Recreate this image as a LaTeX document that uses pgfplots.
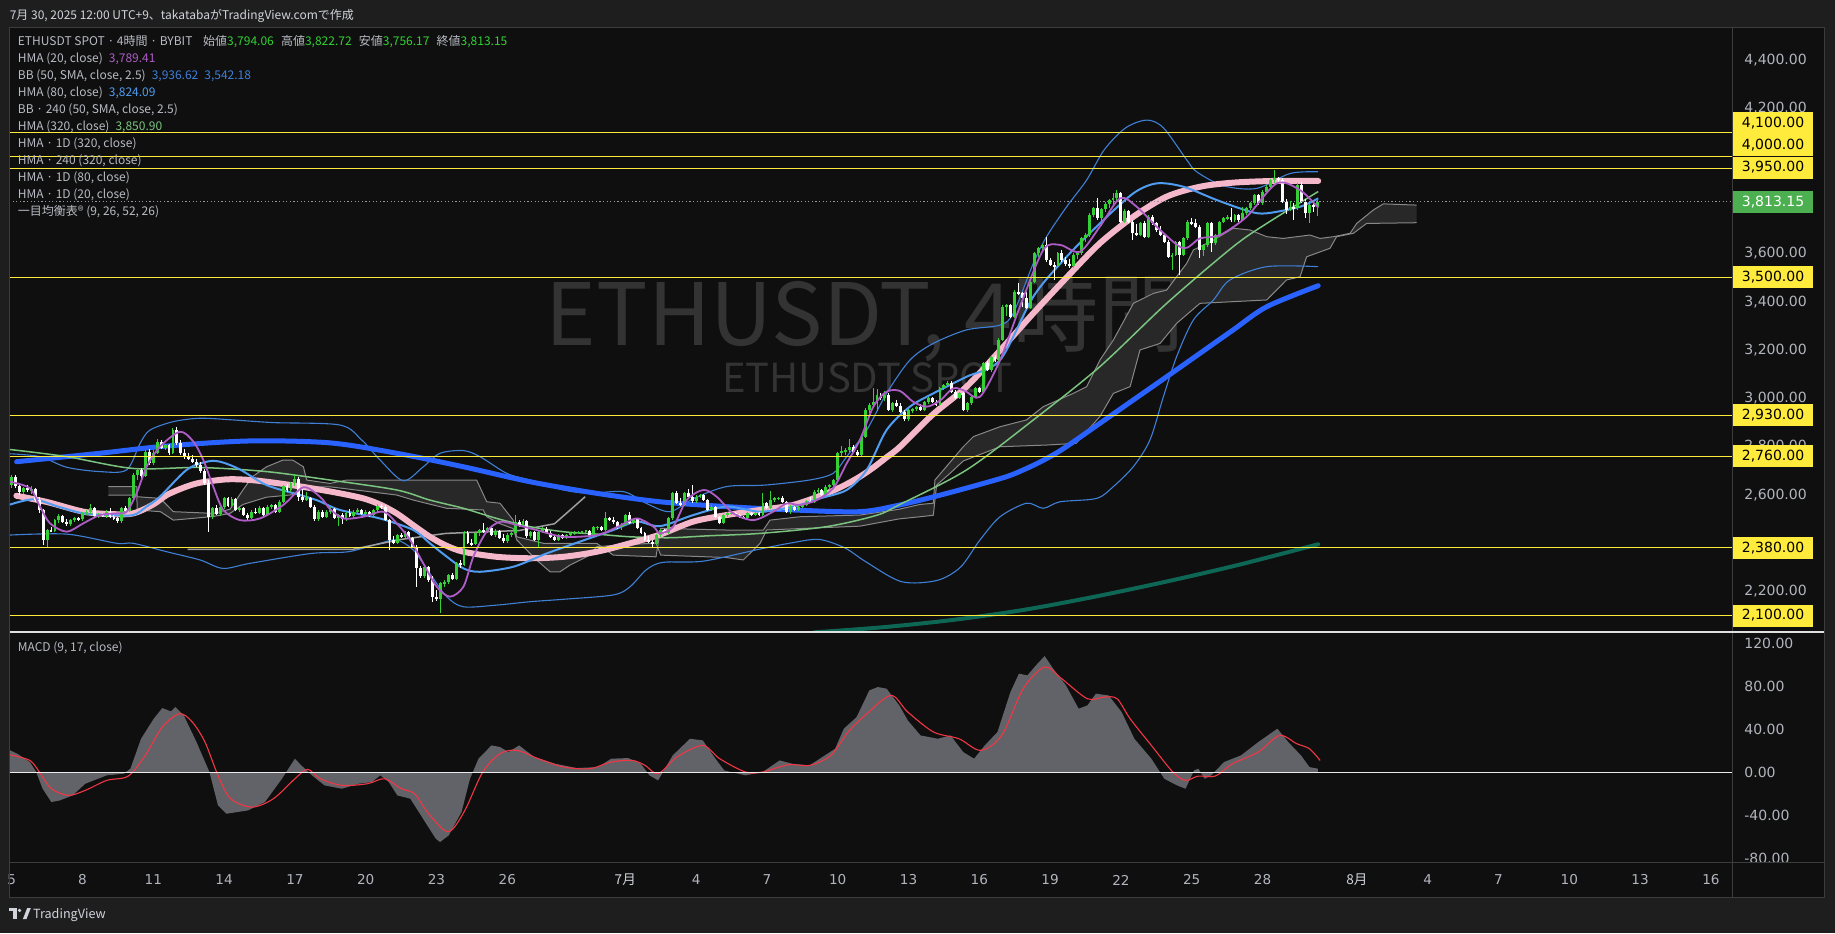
\documentclass[border=0pt]{standalone}
\usepackage{pgfplots}
\pgfplotsset{compat=1.18}
\usepackage{pgfplotstable}
\usepackage{fontspec}
\setmainfont{Noto Sans CJK JP}
\newfontfamily\axisfont{DejaVu Sans}

\definecolor{outer}{HTML}{1E1E1E}
\definecolor{pane}{HTML}{0F0F0F}
\definecolor{sepc}{HTML}{3C3C3C}
\definecolor{wm}{HTML}{333333}
\definecolor{axisgrey}{HTML}{B2B5BE}
\definecolor{legc}{HTML}{B8BBC3}
\definecolor{cup}{HTML}{33D133}
\definecolor{cdown}{HTML}{FFFFFF}
\definecolor{hma20c}{HTML}{AE5CC6}
\definecolor{hma80c}{HTML}{4F9CF0}
\definecolor{bbc}{HTML}{3F7FD6}
\definecolor{hma320c}{HTML}{7BC47F}
\definecolor{pinkc}{HTML}{F5B8CB}
\definecolor{tblue}{HTML}{2962FF}
\definecolor{tealc}{HTML}{0E6654}
\definecolor{greyl}{HTML}{9E9E9E}
\definecolor{cloudf}{HTML}{282828}
\definecolor{cloudl}{HTML}{888888}
\definecolor{ylw}{HTML}{FFEB3B}
\definecolor{boxgreen}{HTML}{4CAF50}
\definecolor{macdf}{HTML}{626368}
\definecolor{macdred}{HTML}{F23645}
\definecolor{dotc}{HTML}{9598A1}
\definecolor{monthc}{HTML}{D1D4DC}

% 4h candles, bar i opens at day 5 + i/6 (June = day n, July = 30 + n)
\pgfplotstableread{
i o h l c
0 2640 2680 2630 2672
1 2672 2680 2628 2635
2 2635 2645 2600 2610
3 2610 2632 2602 2628
4 2628 2640 2612 2618
5 2618 2635 2605 2625
6 2625 2630 2570 2580
7 2580 2590 2525 2535
8 2535 2540 2392 2413
9 2413 2460 2385 2454
10 2454 2468 2445 2450
11 2450 2500 2445 2495
12 2495 2520 2485 2512
13 2512 2518 2485 2489
14 2489 2498 2472 2479
15 2479 2500 2470 2495
16 2495 2510 2488 2502
17 2502 2508 2490 2498
18 2498 2528 2492 2523
19 2523 2535 2515 2530
20 2530 2560 2522 2544
21 2544 2548 2508 2512
22 2512 2525 2505 2520
23 2520 2526 2508 2512
24 2512 2535 2505 2530
25 2530 2545 2505 2509
26 2509 2515 2495 2502
27 2502 2508 2485 2490
28 2490 2550 2485 2544
29 2544 2555 2525 2532
30 2532 2590 2528 2585
31 2585 2690 2580 2682
32 2682 2710 2660 2703
33 2703 2712 2670 2678
34 2678 2785 2672 2778
35 2778 2790 2725 2732
36 2732 2785 2725 2775
37 2775 2830 2768 2820
38 2820 2828 2790 2795
39 2795 2810 2785 2805
40 2805 2812 2765 2772
41 2772 2878 2768 2868
42 2868 2880 2808 2813
43 2813 2825 2765 2772
44 2772 2790 2750 2760
45 2760 2775 2742 2750
46 2750 2765 2730 2737
47 2737 2750 2715 2723
48 2723 2735 2690 2697
49 2697 2705 2640 2650
50 2650 2660 2447 2509
51 2509 2550 2500 2544
52 2544 2558 2515 2520
53 2520 2555 2512 2548
54 2548 2592 2540 2585
55 2585 2590 2548 2552
56 2552 2590 2545 2584
57 2584 2588 2532 2537
58 2537 2552 2528 2546
59 2546 2550 2512 2516
60 2516 2525 2495 2502
61 2502 2535 2498 2530
62 2530 2545 2522 2526
63 2526 2552 2520 2544
64 2544 2548 2510 2516
65 2516 2556 2512 2551
66 2551 2562 2540 2556
67 2556 2560 2526 2530
68 2530 2578 2525 2571
69 2571 2642 2566 2636
70 2636 2645 2610 2618
71 2618 2652 2612 2647
72 2647 2685 2638 2664
73 2664 2672 2575 2590
74 2590 2625 2572 2580
75 2580 2610 2575 2585
76 2585 2590 2545 2551
77 2551 2556 2490 2498
78 2498 2535 2492 2530
79 2530 2536 2505 2509
80 2509 2535 2502 2530
81 2530 2548 2522 2540
82 2540 2545 2500 2505
83 2505 2520 2470 2515
84 2515 2525 2480 2498
85 2498 2530 2492 2525
86 2525 2540 2508 2512
87 2512 2535 2505 2530
88 2530 2545 2520 2538
89 2538 2542 2515 2520
90 2520 2535 2512 2528
91 2528 2534 2510 2515
92 2515 2540 2510 2535
93 2535 2560 2530 2555
94 2555 2562 2540 2550
95 2550 2556 2490 2496
96 2496 2500 2372 2412
97 2412 2430 2395 2400
98 2400 2438 2395 2433
99 2433 2440 2420 2426
100 2426 2452 2420 2447
101 2447 2452 2415 2420
102 2420 2425 2380 2385
103 2385 2390 2220 2295
104 2295 2305 2255 2262
105 2262 2308 2255 2302
106 2302 2306 2240 2248
107 2248 2262 2157 2178
108 2178 2205 2160 2170
109 2170 2240 2112 2233
110 2233 2248 2220 2240
111 2240 2272 2232 2267
112 2267 2275 2245 2250
113 2250 2320 2245 2316
114 2316 2330 2295 2310
115 2310 2448 2305 2440
116 2440 2450 2395 2400
117 2400 2418 2388 2395
118 2395 2445 2390 2440
119 2440 2460 2430 2454
120 2454 2485 2442 2448
121 2448 2468 2440 2461
122 2461 2466 2428 2433
123 2433 2458 2425 2452
124 2452 2456 2415 2420
125 2420 2438 2400 2408
126 2408 2440 2402 2433
127 2433 2445 2425 2440
128 2440 2518 2435 2488
129 2488 2494 2465 2470
130 2470 2498 2465 2492
131 2492 2496 2422 2428
132 2428 2450 2422 2445
133 2445 2450 2410 2414
134 2414 2452 2385 2447
135 2447 2465 2440 2460
136 2460 2466 2436 2441
137 2441 2448 2422 2427
138 2427 2435 2408 2413
139 2413 2438 2410 2433
140 2433 2437 2415 2420
141 2420 2436 2416 2432
142 2432 2445 2426 2440
143 2440 2448 2434 2443
144 2443 2450 2436 2446
145 2446 2452 2438 2449
146 2449 2455 2442 2452
147 2452 2456 2430 2435
148 2435 2470 2432 2465
149 2465 2472 2455 2468
150 2468 2472 2450 2455
151 2455 2530 2450 2502
152 2502 2510 2490 2495
153 2495 2508 2480 2486
154 2486 2492 2460 2468
155 2468 2482 2455 2476
156 2476 2522 2470 2516
157 2516 2528 2478 2484
158 2484 2505 2478 2498
159 2498 2502 2458 2462
160 2462 2468 2436 2440
161 2440 2446 2410 2414
162 2414 2428 2400 2405
163 2405 2412 2378 2398
164 2398 2436 2394 2432
165 2432 2458 2426 2454
166 2454 2460 2436 2441
167 2441 2506 2436 2502
168 2502 2612 2495 2606
169 2606 2615 2560 2565
170 2565 2588 2552 2558
171 2558 2612 2554 2606
172 2606 2622 2588 2592
173 2592 2642 2568 2573
174 2573 2598 2565 2592
175 2592 2604 2585 2599
176 2599 2603 2574 2578
177 2578 2582 2532 2537
178 2537 2556 2532 2551
179 2551 2555 2504 2509
180 2509 2512 2478 2483
181 2483 2520 2478 2516
182 2516 2528 2510 2523
183 2523 2530 2516 2526
184 2526 2530 2512 2516
185 2516 2522 2504 2509
186 2509 2514 2498 2502
187 2502 2528 2498 2523
188 2523 2527 2512 2516
189 2516 2530 2512 2526
190 2526 2530 2512 2516
191 2516 2606 2512 2564
192 2564 2570 2540 2544
193 2544 2614 2540 2578
194 2578 2590 2570 2585
195 2585 2592 2578 2588
196 2588 2594 2566 2571
197 2571 2575 2526 2530
198 2530 2556 2520 2551
199 2551 2555 2533 2537
200 2537 2556 2532 2551
201 2551 2562 2545 2558
202 2558 2580 2553 2575
203 2575 2590 2566 2571
204 2571 2618 2566 2613
205 2613 2626 2606 2620
206 2620 2625 2594 2599
207 2599 2640 2594 2634
208 2634 2645 2620 2640
209 2640 2666 2632 2661
210 2661 2778 2655 2772
211 2772 2800 2760 2780
212 2780 2792 2764 2786
213 2786 2830 2778 2799
214 2799 2806 2772 2778
215 2778 2784 2756 2764
216 2764 2846 2760 2841
217 2841 2958 2836 2951
218 2951 2980 2940 2972
219 2972 3042 2960 2986
220 2986 3040 2948 3013
221 3013 3020 2994 2999
222 2999 3030 2990 3015
223 3015 3022 2946 2951
224 2951 2984 2944 2979
225 2979 2992 2964 2969
226 2969 2982 2940 2944
227 2944 2950 2905 2912
228 2912 2956 2906 2951
229 2951 2960 2938 2955
230 2955 2968 2948 2962
231 2962 2976 2946 2951
232 2951 2990 2946 2986
233 2986 3004 2978 2999
234 2999 3006 2982 2986
235 2986 2992 2968 2972
236 2972 3046 2968 3041
237 3041 3060 3034 3054
238 3054 3070 3048 3064
239 3064 3070 3022 3027
240 3027 3032 2996 3000
241 3000 3025 2995 3020
242 3020 3026 2946 2951
243 2951 2985 2944 2979
244 2979 3010 2972 3006
245 3006 3046 3000 3041
246 3041 3048 3022 3027
247 3027 3150 3022 3144
248 3144 3155 3112 3117
249 3117 3178 3110 3172
250 3172 3180 3152 3158
251 3158 3248 3152 3241
252 3241 3386 3236 3379
253 3379 3392 3340 3386
254 3386 3390 3332 3338
255 3338 3448 3332 3441
256 3441 3476 3428 3434
257 3434 3440 3378 3414
258 3414 3440 3368 3375
259 3375 3490 3370 3483
260 3483 3606 3476 3600
261 3600 3628 3584 3621
262 3621 3640 3605 3634
263 3634 3669 3566 3572
264 3572 3580 3546 3552
265 3552 3565 3490 3546
266 3546 3606 3540 3600
267 3600 3612 3566 3572
268 3572 3586 3548 3555
269 3555 3575 3540 3546
270 3546 3600 3540 3593
271 3593 3606 3576 3600
272 3600 3668 3594 3662
273 3662 3684 3646 3676
274 3676 3766 3668 3759
275 3759 3792 3750 3786
276 3786 3828 3738 3745
277 3745 3790 3712 3782
278 3782 3812 3770 3806
279 3806 3826 3786 3821
280 3821 3850 3792 3828
281 3828 3862 3812 3849
282 3849 3856 3725 3731
283 3731 3782 3726 3776
284 3776 3780 3726 3731
285 3731 3740 3655 3683
286 3683 3720 3672 3678
287 3678 3728 3672 3724
288 3724 3736 3662 3669
289 3669 3758 3664 3752
290 3752 3760 3718 3724
291 3724 3730 3690 3696
292 3696 3712 3670 3676
293 3676 3682 3642 3648
294 3648 3654 3580 3586
295 3586 3600 3530 3594
296 3594 3652 3588 3646
297 3646 3652 3510 3593
298 3593 3668 3588 3662
299 3662 3738 3655 3731
300 3731 3745 3718 3724
301 3724 3742 3704 3710
302 3710 3716 3580 3614
303 3614 3640 3588 3634
304 3634 3730 3628 3724
305 3724 3730 3607 3641
306 3641 3682 3634 3676
307 3676 3736 3670 3731
308 3731 3750 3724 3745
309 3745 3758 3738 3752
310 3752 3786 3732 3738
311 3738 3764 3732 3759
312 3759 3764 3732 3738
313 3738 3793 3734 3766
314 3766 3792 3760 3786
315 3786 3812 3780 3807
316 3807 3848 3800 3842
317 3842 3846 3800 3807
318 3807 3862 3800 3856
319 3856 3882 3848 3876
320 3876 3910 3870 3904
321 3904 3945 3890 3911
322 3911 3918 3896 3904
323 3904 3912 3808 3814
324 3814 3826 3762 3780
325 3780 3815 3775 3793
326 3793 3808 3738 3786
327 3786 3890 3780 3883
328 3883 3895 3808 3814
329 3814 3824 3745 3766
330 3766 3806 3724 3800
331 3800 3815 3770 3794.06
332 3794.06 3822.72 3756.17 3813.15
}\candles

% Ichimoku cloud edges
\pgfplotstableread{
x y
9.1 2634
10.3 2634
10.32 2592
11.3 2585
11.85 2530
13.54 2523
14.25 2540
14.8 2620
15.2 2675
15.8 2716
16.5 2744
16.9 2744
17.36 2716
17.5 2661
18.49 2647
19.19 2661
24.7 2661
25.13 2571
25.69 2565
26.25 2495
26.4 2426
27.53 2399
29.79 2399
30.49 2350
32.3 2343
32.5 2461
35.29 2454
36.85 2454
37.13 2495
38.4 2509
40.94 2516
42.6 2540
43.49 2560
44.05 2565
44.12 2661
45.32 2799
45.75 2841
46.88 2882
48.0 2910
48.71 2965
49.98 3020
50.55 3048
51.11 3158
51.68 3241
52.53 3393
53.37 3434
53.94 3448
54.79 3559
55.07 3614
55.92 3655
56.76 3704
57.47 3697
58.18 3669
58.88 3662
60.01 3676
60.44 3662
61.0 3669
61.71 3683
61.99 3724
62.7 3780
63.12 3805
64.53 3800
}\spanA
\pgfplotstableread{
x y
9.1 2599
10.3 2599
10.32 2537
11.3 2530
11.85 2495
13.54 2510
14.25 2523
14.8 2560
15.8 2590
16.9 2600
17.5 2633
18.49 2633
21.31 2599
22.02 2578
23.43 2544
24.98 2537
25.13 2509
25.69 2480
26.25 2460
26.4 2413
27.24 2330
27.81 2281
28.23 2281
28.66 2309
29.5 2350
29.79 2385
30.49 2390
32.3 2400
32.5 2350
35.29 2340
36.0 2330
36.71 2399
36.99 2454
38.4 2460
40.94 2470
42.6 2500
43.49 2509
44.05 2515
44.19 2640
44.76 2689
45.32 2740
46.88 2799
48.85 2806
50.1 2813
51.11 2924
51.68 3020
52.39 3048
52.81 3200
53.66 3227
54.36 3310
55.35 3393
58.18 3407
59.02 3490
59.59 3503
59.87 3586
60.86 3621
61.14 3669
61.85 3683
62.41 3724
64.53 3727
}\spanB
% cloud outline: span A forward, span B backward
\pgfplotstableread{
x y
9.1 2634
10.3 2634
10.32 2592
11.3 2585
11.85 2530
13.54 2523
14.25 2540
14.8 2620
15.2 2675
15.8 2716
16.5 2744
16.9 2744
17.36 2716
17.5 2661
18.49 2647
19.19 2661
24.7 2661
25.13 2571
25.69 2565
26.25 2495
26.4 2426
27.53 2399
29.79 2399
30.49 2350
32.3 2343
32.5 2461
35.29 2454
36.85 2454
37.13 2495
38.4 2509
40.94 2516
42.6 2540
43.49 2560
44.05 2565
44.12 2661
45.32 2799
45.75 2841
46.88 2882
48.0 2910
48.71 2965
49.98 3020
50.55 3048
51.11 3158
51.68 3241
52.53 3393
53.37 3434
53.94 3448
54.79 3559
55.07 3614
55.92 3655
56.76 3704
57.47 3697
58.18 3669
58.88 3662
60.01 3676
60.44 3662
61.0 3669
61.71 3683
61.99 3724
62.7 3780
63.12 3805
64.53 3800
64.53 3727
62.41 3724
61.85 3683
61.14 3669
60.86 3621
59.87 3586
59.59 3503
59.02 3490
58.18 3407
55.35 3393
54.36 3310
53.66 3227
52.81 3200
52.39 3048
51.68 3020
51.11 2924
50.1 2813
48.85 2806
46.88 2799
45.32 2740
44.76 2689
44.19 2640
44.05 2515
43.49 2509
42.6 2500
40.94 2470
38.4 2460
36.99 2454
36.71 2399
36.0 2330
35.29 2340
32.5 2350
32.3 2400
30.49 2390
29.79 2385
29.5 2350
28.66 2309
28.23 2281
27.81 2281
27.24 2330
26.4 2413
26.25 2460
25.69 2480
25.13 2509
24.98 2537
23.43 2544
22.02 2578
21.31 2599
18.49 2633
17.5 2633
16.9 2600
15.8 2590
14.8 2560
14.25 2523
13.54 2510
11.85 2495
11.3 2530
10.32 2537
10.3 2599
9.1 2599
}\cloudpoly

% MACD line, closed along the zero line for the area fill
\pgfplotstableread{
x y
4.886 21
5.23 17.4
5.77 9.6
6.04 0.3
6.31 -15.3
6.68 -27.7
7.04 -26.2
7.58 -21.5
8.12 -10.6
9.03 -2.8
9.75 -1.3
10.03 3.4
10.48 31.3
11.02 50
11.38 59.9
11.75 56.8
11.93 60.9
12.29 53.1
12.83 28.2
13.38 0.3
13.74 -30.8
14.1 -38.6
15.01 -35.5
15.73 -27.7
16.45 -6
17.0 12.7
17.27 6.5
17.72 -2.8
18.26 -12.2
18.99 -15.3
19.71 -10.6
20.26 -9.1
20.62 -2.8
20.98 -9.1
21.34 -21.5
21.89 -24.6
22.25 -37
22.61 -49.5
22.97 -61.9
23.15 -65
23.52 -58.8
24.06 -37
24.42 -6
24.78 12.7
25.33 25.1
25.69 23.6
26.05 18.9
26.5 25.1
27.14 14.3
28.04 8
28.95 4
29.85 4.9
30.4 12.7
31.12 13.3
31.66 8
32.02 -2.8
32.39 -7.5
33.01 15.8
33.74 31.3
34.28 29.8
34.82 12.7
35.19 1.8
36.09 -2.8
36.82 0.3
37.54 11.1
38.08 8
38.81 6.5
39.35 14.3
39.89 22
40.26 40.7
40.8 51.5
41.34 76.4
41.7 79.5
42.07 78
42.61 62.4
42.97 48.4
43.51 34.4
44.24 31.3
44.78 34.4
45.32 18.9
45.78 12.7
46.23 25.1
46.77 37.6
47.32 74.9
47.68 92
48.04 90.4
48.4 99.7
48.77 108.4
49.13 96.6
49.67 81.1
50.21 59.3
50.58 62.4
50.94 73.3
51.48 71.7
52.03 56.2
52.57 31.3
53.29 12.7
53.84 -6
54.38 -12.2
54.74 -15.3
55.1 1.8
55.28 3.4
55.55 -6
55.83 -2.8
56.37 9.6
57.09 15.8
57.82 28.2
58.63 40.7
59.09 28.2
59.63 15.8
59.99 4.9
60.35 3.4
60.35 0
4.886 0
}\macdtab

\begin{document}
\begin{tikzpicture}[line join=round]
\fill[outer] (0,0) rectangle (917.5pt,-466.5pt);
\fill[pane] (4.5pt,-13.5pt) rectangle (912pt,-448.5pt);

% watermark
\node[anchor=base, text=wm, inner sep=0pt, font=\fontsize{43}{43}\selectfont] at (432.5pt,-172.5pt) {ETHUSDT, 4時間};
\node[anchor=base, text=wm, inner sep=0pt, font=\fontsize{20}{20}\selectfont] at (433.5pt,-196pt) {ETHUSDT SPOT};

% ---------- price pane ----------
\begin{axis}[
    at={(4.5pt,-316pt)}, anchor=south west,
    scale only axis, width=861.5pt, height=302.5pt,
    xmin=4.8856, xmax=77.894, ymin=2031.5, ymax=4537.7,
    axis line style={draw=none}, tick style={draw=none},
    xtick=\empty,
    ytick={2200,2600,2800,3000,3200,3400,3600,4200,4400},
    scaled y ticks=false,
    yticklabel pos=right,
    yticklabel={\pgfmathprintnumber{\tick}},
    yticklabel style={font=\axisfont\fontsize{7}{8}\selectfont, text=axisgrey,
        anchor=west, inner sep=0pt, xshift=6pt,
        /pgf/number format/fixed, /pgf/number format/fixed zerofill,
        /pgf/number format/precision=2, /pgf/number format/1000 sep={,},
        /pgf/number format/assume math mode=true},
]
% cloud
\addplot[fill=cloudf, draw=none] table {\cloudpoly};
\addplot[cloudl, line width=0.5pt] table {\spanA};
\addplot[cloudl, line width=0.5pt] table {\spanB};

% Bollinger bands
\addplot[bbc, line width=0.55pt, smooth] coordinates {
(4.886,2770) (6.2,2758) (7.33,2714) (8.74,2696) (9.87,2703) (10.44,2813) (10.86,2868)
(11.85,2903) (12.98,2917) (14.39,2910) (16.09,2899) (18.91,2889) (19.83,2827) (20.61,2744)
(21.59,2658) (22.44,2716) (23.15,2772) (24.14,2783) (24.84,2758) (25.97,2689) (26.96,2661)
(28.37,2620) (29.5,2606) (30.92,2613) (31.9,2564) (32.89,2530) (33.9,2585) (35.29,2634)
(36.9,2640) (38.8,2661) (39.81,2689) (40.38,2758) (41.23,2868) (42.07,3020) (43.06,3158)
(44.05,3227) (45.46,3283) (46.88,3303) (47.44,3352) (48.29,3559) (48.85,3669) (49.7,3793)
(50.55,3904) (51.3,4030) (52.2,4120) (53.1,4152) (53.8,4120) (54.79,3987) (55.21,3938)
(56.34,3880) (57.75,3869) (59.17,3931) (60.36,3938)};
\addplot[bbc, line width=0.55pt, smooth] coordinates {
(4.886,2433) (7.33,2437) (9.45,2399) (10.15,2399) (11.57,2364) (12.98,2330) (13.95,2295)
(15.1,2316) (17.7,2357) (19.26,2364) (20.6,2399) (21.31,2413) (22.02,2371) (22.72,2274)
(23.43,2178) (24.14,2136) (25.55,2143) (26.96,2157) (28.37,2167) (30.49,2185) (31.2,2219)
(31.9,2290) (32.6,2320) (34.3,2325) (36.7,2375) (38.0,2400) (39.2,2415) (40.3,2380)
(41.2,2322) (42.7,2240) (44.2,2245) (45.2,2300) (46.03,2413) (46.88,2509) (48.0,2565)
(48.71,2544) (49.42,2571) (50.97,2585) (51.68,2634) (52.53,2717) (53.23,2827) (53.8,3006)
(54.36,3172) (55.07,3324) (55.92,3407) (56.62,3490) (58.18,3545) (60.36,3545)};

% HMA 1D (320)
\addplot[tealc, line width=2pt, line cap=round, smooth] coordinates {
(39.0,2030) (42,2052) (45,2083) (48,2125) (51,2180) (54,2242) (57,2310) (60.36,2395)};
% HMA 240 (320)
\addplot[tblue, line width=2.5pt, line cap=round, smooth] coordinates {
(5.21,2737) (8.74,2772) (11.57,2802) (15.1,2823) (18.49,2815) (21.31,2772) (24.14,2716)
(26.96,2654) (29.79,2606) (32.47,2571) (35.29,2551) (38.12,2537) (40.94,2530) (42.64,2558)
(44.4,2600) (46.17,2647) (47.3,2680) (48.29,2722) (49.0,2758) (49.7,2800) (51.11,2896)
(52.53,2993) (53.94,3089) (55.35,3186) (56.76,3283) (58.18,3379) (60.36,3466)};
% HMA 1D (80)
\addplot[greyl, line width=0.75pt] coordinates {
(12.45,2374) (19.45,2374) (21.5,2415) (23.4,2440) (26.5,2452) (28.0,2480) (28.7,2540) (29.3,2592)};
% HMA (320)
\addplot[hma320c, line width=0.75pt, smooth] coordinates {
(4.886,2788) (7.33,2758) (10.15,2709) (12.98,2713) (15.8,2696) (18.49,2661) (21.31,2620)
(22.72,2578) (24.14,2544) (25.55,2502) (26.96,2468) (28.37,2447) (29.79,2437) (31.2,2426)
(32.89,2422) (34.5,2430) (36.71,2440) (39.53,2468) (41.65,2515) (42.64,2560) (45.46,2703)
(48.29,2910) (51.11,3131) (53.94,3393) (56.76,3628) (58.18,3724) (60.36,3856)};
% HMA 1D (20)
\addplot[pinkc, line width=3pt, line cap=round, smooth] coordinates {
(5.2,2596) (6.5,2570) (8.04,2530) (9.2,2520) (10.15,2523) (11.0,2560) (11.57,2599)
(12.3,2630) (12.98,2650) (14.11,2664) (15.0,2662) (15.8,2654) (17.0,2638) (18.0,2622)
(18.91,2606) (19.9,2585) (20.6,2560) (21.31,2523) (22.0,2475) (22.72,2426) (23.4,2390)
(24.14,2364) (25.55,2343) (26.96,2337) (28.37,2343) (29.79,2364) (31.2,2399) (32.47,2435)
(33.88,2489) (35.29,2516) (36.71,2537) (38.12,2558) (39.53,2606) (40.3,2640) (40.94,2675)
(41.5,2712) (42.07,2755) (42.64,2799) (44.0,2930) (45.46,3048) (46.9,3200) (48.29,3352)
(49.7,3500) (51.11,3642) (52.53,3752) (53.94,3835) (55.35,3876) (56.76,3893) (58.5,3900)
(60.36,3900)};
% HMA (80)
\addplot[hma80c, line width=1pt, smooth] coordinates {
(4.886,2558) (5.92,2581) (7.0,2550) (8.04,2523) (9.17,2516) (10.15,2516) (10.7,2550)
(11.28,2592) (12.41,2703) (13.26,2737) (13.83,2737) (14.67,2705) (15.8,2640) (17.22,2599)
(18.0,2575) (18.91,2537) (20.6,2502) (22.02,2454) (22.72,2399) (23.43,2344) (24.14,2295)
(24.84,2281) (26.26,2302) (27.67,2357) (29.08,2406) (30.49,2454) (31.48,2489) (32.47,2470)
(33.88,2516) (35.29,2551) (36.71,2530) (38.12,2551) (39.25,2585) (40.38,2620) (41.23,2703)
(42.07,2868) (43.06,2965) (44.05,3020) (45.46,3089) (46.88,3158) (48.29,3421) (49.7,3586)
(51.11,3724) (52.53,3849) (53.52,3890) (54.65,3876) (56.06,3821) (57.47,3773) (58.18,3766)
(59.59,3793) (60.36,3828)};

% candles: wicks then bodies
\addplot[draw=none, mark=none, forget plot,
    restrict expr to domain={\thisrow{c}-\thisrow{o}}{0:100000},
    error bars/.cd, y dir=both, y explicit, error mark=none,
    error bar style={draw=cup, line width=0.5pt}]
    table[x expr={5+\thisrow{i}/6}, y expr={(\thisrow{h}+\thisrow{l})/2},
          y error expr={(\thisrow{h}-\thisrow{l})/2}] {\candles};
\addplot[draw=none, mark=none, forget plot,
    restrict expr to domain={\thisrow{c}-\thisrow{o}}{-100000:-0.001},
    error bars/.cd, y dir=both, y explicit, error mark=none,
    error bar style={draw=cdown, line width=0.5pt}]
    table[x expr={5+\thisrow{i}/6}, y expr={(\thisrow{h}+\thisrow{l})/2},
          y error expr={(\thisrow{h}-\thisrow{l})/2}] {\candles};
\addplot[draw=none, mark=none, forget plot,
    restrict expr to domain={\thisrow{c}-\thisrow{o}}{0:100000},
    error bars/.cd, y dir=both, y explicit, error mark=none,
    error bar style={draw=cup, line width=1.45pt}]
    table[x expr={5+\thisrow{i}/6}, y expr={(\thisrow{o}+\thisrow{c})/2},
          y error expr={max(abs(\thisrow{c}-\thisrow{o})/2,2)}] {\candles};
\addplot[draw=none, mark=none, forget plot,
    restrict expr to domain={\thisrow{c}-\thisrow{o}}{-100000:-0.001},
    error bars/.cd, y dir=both, y explicit, error mark=none,
    error bar style={draw=cdown, line width=1.45pt}]
    table[x expr={5+\thisrow{i}/6}, y expr={(\thisrow{o}+\thisrow{c})/2},
          y error expr={max(abs(\thisrow{c}-\thisrow{o})/2,2)}] {\candles};

% HMA (20)
\addplot[hma20c, line width=0.9pt, smooth] coordinates {
(4.93,2654) (5.77,2627) (6.2,2551) (6.62,2482) (7.33,2447) (8.04,2482) (8.74,2516)
(9.45,2523) (9.87,2530) (10.29,2606) (10.72,2716) (11.28,2799) (12.13,2861) (12.7,2820)
(13.12,2744) (13.54,2634) (13.97,2537) (14.67,2495) (15.52,2502) (16.51,2558) (17.36,2631)
(18.06,2592) (18.49,2540) (18.91,2509) (19.19,2500) (19.9,2509) (20.75,2530) (21.31,2482)
(21.88,2413) (22.44,2316) (23.01,2219) (23.57,2178) (24.14,2219) (24.56,2343) (25.12,2447)
(25.69,2488) (26.4,2475) (27.24,2454) (28.37,2426) (29.79,2433) (30.63,2465) (31.48,2502)
(32.19,2468) (32.47,2440) (33.03,2468) (33.6,2578) (34.31,2620) (34.87,2592) (35.58,2523)
(36.43,2495) (37.27,2530) (37.84,2564) (38.4,2558) (39.11,2578) (39.81,2627) (40.38,2730)
(40.94,2827) (41.51,2965) (42.07,3027) (42.64,3030) (43.2,2985) (43.77,2965) (44.33,2990)
(44.9,3041) (45.4,3030) (46.03,3006) (46.88,3158) (47.72,3379) (48.71,3614) (49.42,3635)
(50.27,3607) (51.11,3711) (51.96,3828) (52.67,3793) (53.66,3697) (54.65,3621) (55.35,3662)
(56.2,3676) (57.33,3752) (58.6,3890) (59.59,3862) (60.36,3789)};

% horizontal levels
\pgfplotsinvokeforeach{4100,4000,3950,3500,2930,2760,2380,2100}{
  \addplot[ylw, line width=0.6pt] coordinates {(4.8856,#1) (77.894,#1)};
}
\addplot[dotc, line width=0.5pt, dash pattern=on 0.6pt off 1.2pt] coordinates {(4.8856,3813.15) (77.894,3813.15)};
\end{axis}

% ---------- MACD pane ----------
\begin{axis}[
    at={(4.5pt,-431pt)}, anchor=south west,
    scale only axis, width=861.5pt, height=115pt,
    xmin=4.8856, xmax=77.894, ymin=-83.6, ymax=130.8,
    axis line style={draw=none}, tick style={draw=none},
    xtick={5,8,11,14,17,20,23,26,31,34,37,40,43,46,49,52,55,58,62,65,68,71,74,77},
    xticklabels={5,8,11,14,17,20,23,26,{\rmfamily\color{monthc}7月},4,7,10,13,16,19,22,25,28,{\rmfamily\color{monthc}8月},4,7,10,13,16},
    xticklabel style={font=\axisfont\fontsize{6.8}{8}\selectfont, text=axisgrey,
        anchor=center, inner sep=0pt, yshift=-9pt},
    ytick={-80,-40,0,40,80,120},
    yticklabel pos=right,
    yticklabel={\pgfmathprintnumber{\tick}},
    yticklabel style={font=\axisfont\fontsize{7}{8}\selectfont, text=axisgrey,
        anchor=west, inner sep=0pt, xshift=6pt,
        /pgf/number format/fixed, /pgf/number format/fixed zerofill,
        /pgf/number format/precision=2,
        /pgf/number format/assume math mode=true},
]
\addplot[fill=macdf, draw=none] table {\macdtab};
\addplot[macdred, line width=0.55pt, smooth] coordinates {
(4.886,16.5) (5.77,11.1) (6.22,-1.3) (6.68,-15.3) (7.4,-21.5) (8.12,-16.8) (9.03,-7.5)
(9.94,-3.5) (10.66,15.8) (11.38,42.2) (12.11,54.7) (12.65,46.9) (13.19,28.2) (13.74,-2.8)
(14.28,-24.6) (15.19,-32.4) (16.09,-24.6) (17.0,-6) (17.54,2.8) (18.08,-6) (18.99,-12.2)
(20.08,-10.6) (20.8,-6) (21.52,-15.3) (22.07,-19.9) (22.61,-37) (23.33,-54.1) (23.7,-52.6)
(24.24,-33.9) (24.96,0.3) (25.69,17.4) (26.41,20.5) (27.32,12.7) (28.4,4.9) (29.49,3.4)
(30.4,9.6) (31.3,11.1) (31.84,6.5) (32.39,-1.3) (33.19,14.3) (34.28,25.1) (35.0,12.7)
(36.09,0.3) (36.82,0.3) (37.9,7.1) (38.81,6.5) (39.71,15.8) (40.44,37.6) (41.16,53.1)
(42.25,71.7) (42.97,56.2) (44.06,37.6) (45.14,31.3) (46.05,20.5) (46.95,34.4) (47.86,78)
(48.77,98.2) (49.49,87.3) (50.58,68.6) (51.3,70.2) (51.84,68.6) (52.39,50) (53.29,25.1)
(54.2,0.3) (54.74,-7.5) (55.28,-3.5) (56.0,-3.5) (56.73,8) (57.82,18.9) (58.72,34.4)
(59.45,26.7) (59.99,22) (60.44,11.1)};
\addplot[white!92!black, line width=0.75pt] coordinates {(4.8856,0) (77.894,0)};
\end{axis}

% frame overlays
\fill[pane] (866.5pt,-431pt) rectangle (912pt,-448.5pt);
\draw[sepc, line width=0.5pt] (866.25pt,-13.5pt) -- (866.25pt,-448.5pt);
\draw[white!88!black, line width=0.6pt] (4.5pt,-316pt) -- (912pt,-316pt);
\draw[sepc, line width=0.5pt] (4.5pt,-431pt) -- (912pt,-431pt);
\draw[sepc, line width=0.5pt] (4.5pt,-13.5pt) rectangle (912pt,-448.5pt);

% price scale markers
\tikzset{pbox/.style={fill=ylw, text=black, minimum width=40pt, minimum height=11pt,
    inner sep=0pt, font=\axisfont\fontsize{7}{8}\selectfont}}
\node[pbox] at (886.5pt,-61.35pt) {4,100.00};
\node[pbox] at (886.5pt,-72.35pt) {4,000.00};
\node[pbox] at (886.5pt,-83.75pt) {3,950.00};
\node[pbox, fill=boxgreen, text=white] at (886.5pt,-100.95pt) {3,813.15};
\node[pbox] at (886.5pt,-138.65pt) {3,500.00};
\node[pbox] at (886.5pt,-207.55pt) {2,930.00};
\node[pbox] at (886.5pt,-228.05pt) {2,760.00};
\node[pbox] at (886.5pt,-273.95pt) {2,380.00};
\node[pbox] at (886.5pt,-307.75pt) {2,100.00};

% title and legend
\node[anchor=base west, inner sep=0pt, text=monthc, font=\fontsize{6}{7}\selectfont] at (4.7pt,-9.5pt)
  {7月 30, 2025 12:00 UTC+9、takatabaがTradingView.comで作成};
\begin{scope}[every node/.style={anchor=base west, inner sep=0pt, text=legc, font=\fontsize{6}{7}\selectfont}]
\node at (8.75pt,-22.9pt) {ETHUSDT SPOT · 4時間 · BYBIT\hspace{0.9em}始値\textcolor{cup}{3,794.06}\hspace{0.6em}高値\textcolor{cup}{3,822.72}\hspace{0.6em}安値\textcolor{cup}{3,756.17}\hspace{0.6em}終値\textcolor{cup}{3,813.15}};
\node at (8.75pt,-31.4pt) {HMA (20, close)\hspace{0.5em}\textcolor{hma20c}{3,789.41}};
\node at (8.75pt,-39.9pt) {BB (50, SMA, close, 2.5)\hspace{0.5em}\textcolor{bbc}{3,936.62}\hspace{0.5em}\textcolor{bbc}{3,542.18}};
\node at (8.75pt,-48.4pt) {HMA (80, close)\hspace{0.5em}\textcolor{hma80c}{3,824.09}};
\node at (8.75pt,-56.9pt) {BB · 240 (50, SMA, close, 2.5)};
\node at (8.75pt,-65.4pt) {HMA (320, close)\hspace{0.5em}\textcolor{hma320c}{3,850.90}};
\node at (8.75pt,-73.9pt) {HMA · 1D (320, close)};
\node at (8.75pt,-82.4pt) {HMA · 240 (320, close)};
\node at (8.75pt,-90.9pt) {HMA · 1D (80, close)};
\node at (8.75pt,-99.4pt) {HMA · 1D (20, close)};
\node at (8.75pt,-107.9pt) {一目均衡表® (9, 26, 52, 26)};
\node at (8.75pt,-325.6pt) {MACD (9, 17, close)};
\end{scope}

% footer logo
\fill[monthc] (4.6pt,-454pt) rectangle (8.4pt,-455.6pt);
\fill[monthc] (6.6pt,-454pt) rectangle (8.4pt,-459.6pt);
\fill[monthc] (9.8pt,-455.2pt) circle (0.9pt);
\fill[monthc] (11.4pt,-459.6pt) -- (13.6pt,-454pt) -- (15.4pt,-454pt) -- (13.2pt,-459.6pt) -- cycle;
\node[anchor=base west, inner sep=0pt, text=monthc, font=\fontsize{6.3}{7}\selectfont] at (16.4pt,-459.2pt) {TradingView};

\pgfresetboundingbox
\path[use as bounding box] (0,0) rectangle (917.5pt,-466.5pt);
\end{tikzpicture}
\end{document}
